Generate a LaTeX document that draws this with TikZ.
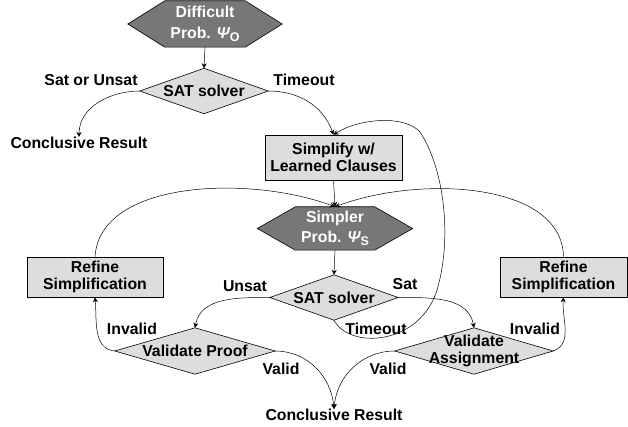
\documentclass[tikz,border=0pt]{standalone}
\usepackage{fontspec}
\setmainfont{Liberation Sans}
\usetikzlibrary{calc,backgrounds,arrows.meta}
\begin{document}
\begin{tikzpicture}[x=1pt,y=-1pt,
  every node/.style={font=\fontsize{15.8}{18.5}\selectfont\bfseries, align=center},
  hexnode/.style={inner sep=0pt, text=white, minimum width=#1},
  dianode/.style={inner sep=0pt},
  boxnode/.style={draw=black, fill=boxgray, inner sep=0pt, line width=0.6pt},
  lbl/.style={inner sep=0pt},
  conn/.style={line width=0.5pt, -{Stealth[length=5pt,width=5pt]}},
  shapeline/.style={draw=black, line width=0.6pt}
]
\definecolor{boxgray}{HTML}{DDDDDD}
\definecolor{hexgray}{HTML}{777777}
\useasboundingbox (0,0) rectangle (628,427);

% nodes
\node[hexnode=154pt, minimum height=46pt] (top) at (205,24) {Difficult\\[2pt]Prob. {\itshape Ψ}\raisebox{-0.35ex}{\fontsize{12.5}{13}\selectfont O}};
\node[dianode, minimum width=128pt, minimum height=45pt] (sat1) at (204,91) {SAT solver};
\node[lbl] (lsu) at (91,80) {Sat or Unsat};
\node[lbl] (lto1) at (304,80) {Timeout};
\node[lbl] (concl1) at (79,143) {Conclusive Result};
\node[boxnode, minimum width=137pt, minimum height=45pt] (simp) at (333.5,157.5) {Simplify w/\\[-2pt]Learned Clauses};
\node[hexnode=155pt, minimum height=43pt] (simpler) at (335,228.5) {Simpler\\[1pt]Prob. {\itshape Ψ}\raisebox{-0.35ex}{\fontsize{12.5}{13}\selectfont S}};
\node[dianode, minimum width=128pt, minimum height=45pt] (sat2) at (334,297.5) {SAT solver};
\node[boxnode, minimum width=136pt, minimum height=40pt] (refL) at (95,277) {Refine\\[-1pt]Simplification};
\node[boxnode, minimum width=127pt, minimum height=40pt] (refR) at (563.5,277) {Refine\\[-1pt]Simplification};
\node[dianode, minimum width=160pt, minimum height=46pt] (valP) at (195,351) {Validate Proof};
\node[dianode, minimum width=158pt, minimum height=46pt] (valA) at (474,351) {Validate\\[-2pt]Assignment};
\node[lbl] (concl2) at (334,415) {Conclusive Result};
\node[lbl] (lun) at (245,286) {Unsat};
\node[lbl] (lsat) at (405,284) {Sat};
\node[lbl] (lto2) at (376,329) {Timeout};
\node[lbl] (linvL) at (132,329) {Invalid};
\node[lbl] (lvalL) at (281,369) {Valid};
\node[lbl] (lvalR) at (388,369) {Valid};
\node[lbl] (linvR) at (535,329) {Invalid};

% shapes behind text
\begin{scope}[on background layer]
  \foreach \n/\o in {top/37, simpler/38}{
    \filldraw[shapeline, fill=hexgray] (\n.west) -- ($(\n.north west)+(\o,0)$) -- ($(\n.north east)+(-\o,0)$)
      -- (\n.east) -- ($(\n.south east)+(-\o,0)$) -- ($(\n.south west)+(\o,0)$) -- cycle;
  }
  \foreach \n in {sat1, sat2, valP, valA}{
    \filldraw[shapeline, fill=boxgray] (\n.west) -- (\n.north) -- (\n.east) -- (\n.south) -- cycle;
  }
\end{scope}

% connectors
\draw[conn] (top.south) -- (sat1.north);
\draw[conn] (sat1.west) to[out=180,in=90] (concl1.north);
\draw[conn] (sat1.east) to[out=0,in=110] (simp.north);
\draw[conn] (sat2.south) .. controls (350,350) and (420,345) .. (437,290)
   .. controls (452,240) and (445,170) .. (420,132)
   .. controls (405,115) and (360,118) .. (simp.north);
\draw[conn] (simp.south) -- (simpler.north);
\draw[conn] (refL.north) .. controls (100,180) and (250,175) .. (simpler.north);
\draw[conn] (refR.north) .. controls (562,182) and (420,175) .. (simpler.north);
\draw[conn] (simpler.south) -- (sat2.north);
\draw[conn] (sat2.west) to[out=180,in=80] (valP.north);
\draw[conn] (sat2.east) to[out=0,in=100] (valA.north);
\draw[conn] (valP.west) to[out=175,in=-85] (refL.south);
\draw[conn] (valP.east) to[out=0,in=95] (concl2.north);
\draw[conn] (valA.west) to[out=180,in=85] (concl2.north);
\draw[conn] (valA.east) to[out=20,in=-95] (refR.south);
\end{tikzpicture}
\end{document}
